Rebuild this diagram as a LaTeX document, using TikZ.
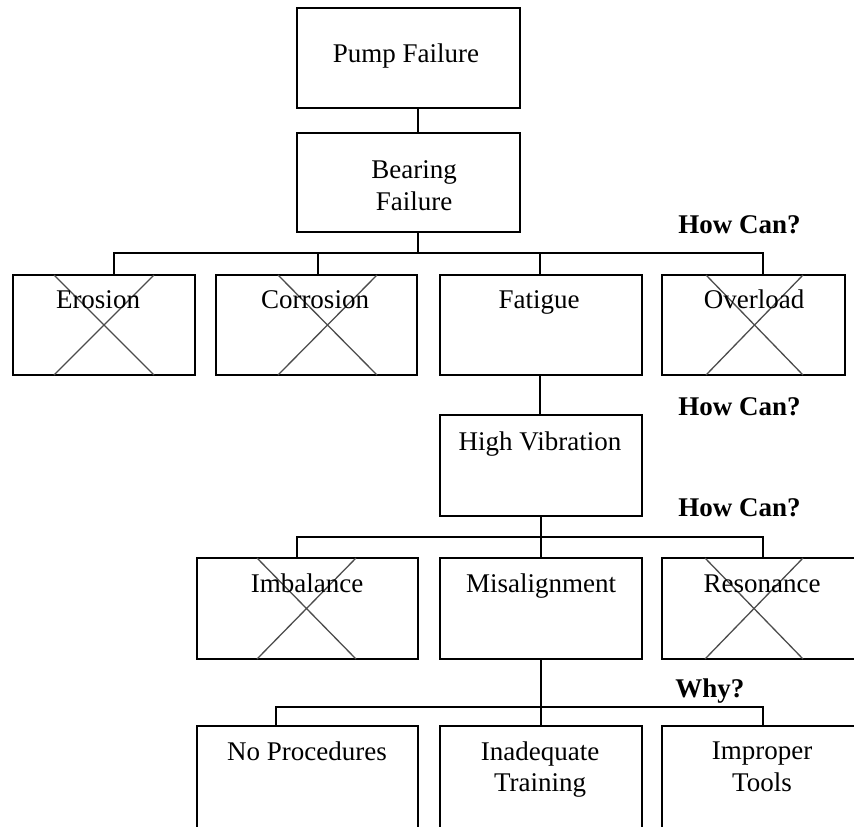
\documentclass[tikz,border=0pt]{standalone}
\usepackage{fontspec}
\setmainfont{Liberation Serif}
\begin{document}
\begin{tikzpicture}[x=0.5pt,y=-0.5pt,
  box/.style={draw, line width=1pt, inner sep=0pt, outer sep=0pt},
  conn/.style={line width=0.9pt},
  xline/.style={line width=0.65pt, draw=black!70},
  lbl/.style={anchor=base, inner sep=0pt, font=\fontsize{13.5}{15.5}\selectfont},
  how/.style={anchor=base west, inner sep=0pt, font=\fontsize{13.5}{15.5}\selectfont\bfseries}]
\useasboundingbox (0,0) rectangle (854,826);
\clip (0,0) rectangle (854,826);
% boxes
\node[box, minimum width=111.5pt, minimum height=50pt] (pump) at (408.5,58) {};
\node[box, minimum width=111.5pt, minimum height=49.5pt] (bearing) at (408.5,182.5) {};
\node[box, minimum width=91pt, minimum height=50pt] (erosion) at (104,325) {};
\node[box, minimum width=100.5pt, minimum height=50pt] (corrosion) at (316.5,325) {};
\node[box, minimum width=101pt, minimum height=50pt] (fatigue) at (541,325) {};
\node[box, minimum width=91.5pt, minimum height=50pt] (overload) at (753.5,325) {};
\node[box, minimum width=101pt, minimum height=50.5pt] (highvib) at (541,465.5) {};
\node[box, minimum width=110.5pt, minimum height=50.5pt] (imbalance) at (307.5,608.5) {};
\node[box, minimum width=101pt, minimum height=50.5pt] (misalign) at (541,608.5) {};
\node[box, minimum width=111pt, minimum height=50.5pt] (resonance) at (773,608.5) {};
\node[box, minimum width=110.5pt, minimum height=52pt] (noproc) at (307.5,778) {};
\node[box, minimum width=101pt, minimum height=52pt] (training) at (541,778) {};
\node[box, minimum width=111pt, minimum height=52pt] (tools) at (773,778) {};
% crosses
\draw[xline] (54,275) -- (154,375) (154,275) -- (54,375);
\draw[xline] (278,275) -- (377,375) (377,275) -- (278,375);
\draw[xline] (706,275) -- (803,375) (803,275) -- (706,375);
\draw[xline] (257,558) -- (356,659) (356,558) -- (257,659);
\draw[xline] (705,558) -- (803,659) (803,558) -- (705,659);
% junctions
\coordinate (j1) at (418,253);
\coordinate (d1) at (114,253);
\coordinate (d2) at (318,253);
\coordinate (d3) at (540,253);
\coordinate (d4) at (763,253);
\coordinate (j2) at (541,537);
\coordinate (e1) at (297,537);
\coordinate (e3) at (763,537);
\coordinate (j3) at (541,707);
\coordinate (f1) at (276,707);
\coordinate (f3) at (763,707);
% connectors
\draw[conn] (pump.south -| j1) -- (bearing.north -| j1);
\draw[conn] (bearing.south -| j1) -- (j1);
\draw[conn] (d1 |- erosion.north) -- (d1) -- (d4) -- (d4 |- overload.north);
\draw[conn] (d2) -- (d2 |- corrosion.north);
\draw[conn] (d3) -- (d3 |- fatigue.north);
\draw[conn] (fatigue.south -| d3) -- (highvib.north -| d3);
\draw[conn] (highvib.south -| j2) -- (j2 |- misalign.north);
\draw[conn] (e1 |- imbalance.north) -- (e1) -- (e3) -- (e3 |- resonance.north);
\draw[conn] (misalign.south -| j3) -- (j3 |- training.north);
\draw[conn] (f1 |- noproc.north) -- (f1) -- (f3) -- (f3 |- tools.north);
% labels
\node[lbl] (tpump) at (406,62) {Pump Failure};
\node[lbl] (tbear1) at (414,178) {Bearing};
\node[lbl] (tbear2) at (414,210) {Failure};
\node[lbl] (tero) at (98,308) {Erosion};
\node[lbl] (tcor) at (315,308) {Corrosion};
\node[lbl] (tfat) at (539,308) {Fatigue};
\node[lbl] (tover) at (754,308) {Overload};
\node[lbl] (thv) at (540,450) {High Vibration};
\node[lbl] (timb) at (307,592) {Imbalance};
\node[lbl] (tmis) at (541,592) {Misalignment};
\node[lbl] (tres) at (762,592) {Resonance};
\node[lbl] (tnop) at (307,760) {No Procedures};
\node[lbl] (tina1) at (540,760) {Inadequate};
\node[lbl] (tina2) at (540,791) {Training};
\node[lbl] (timp1) at (762,759) {Improper};
\node[lbl] (timp2) at (762,791) {Tools};
\node[how] (h1) at (678,233) {How Can?};
\node[how] (h2) at (678,415) {How Can?};
\node[how] (h3) at (678,516) {How Can?};
\node[how] (h4) at (675,697) {Why?};
\end{tikzpicture}
\end{document}
